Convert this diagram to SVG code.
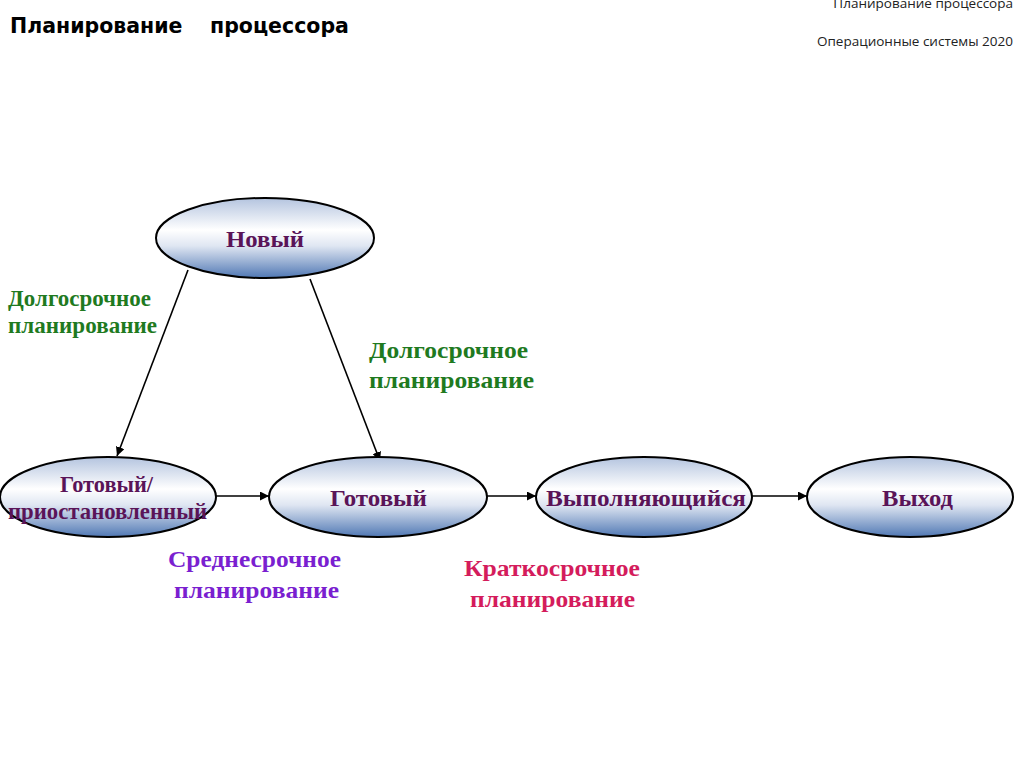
<svg xmlns="http://www.w3.org/2000/svg" width="1024" height="767" viewBox="0 0 1024 767">
<style>
.node{stroke:#000;stroke-width:2;fill:url(#g)}
.nl{font-family:"Liberation Serif",serif;font-weight:bold;font-size:24px;fill:#5a1458;text-anchor:middle}
.lbl{font-family:"Liberation Serif",serif;font-weight:bold;font-size:23px}
.edge{stroke:#000;stroke-width:1.6;fill:none;marker-end:url(#a)}
</style>
<defs>
<linearGradient id="g" x1="0" y1="0" x2="0" y2="1">
<stop offset="0" stop-color="#b4c4df"/>
<stop offset="0.4" stop-color="#ffffff"/>
<stop offset="0.6" stop-color="#dfe6f2"/>
<stop offset="1" stop-color="#5078b4"/>
</linearGradient>
<marker id="a" viewBox="0 0 10 10" refX="10" refY="5" markerWidth="9" markerHeight="9" markerUnits="userSpaceOnUse" orient="auto"><path d="M0,0 L10,5 L0,10 z" fill="#000"/></marker>
</defs>
<rect width="1024" height="767" fill="#fff"/>
<text x="10" y="33" font-family="'DejaVu Sans',sans-serif" font-weight="bold" font-size="20.5" fill="#000">Планирование</text>
<text x="210" y="33" font-family="'DejaVu Sans',sans-serif" font-weight="bold" font-size="20.5" fill="#000">процессора</text>
<text x="1013" y="8" font-family="'Open Sans',sans-serif" font-size="13.5" fill="#222" text-anchor="end">Планирование  процессора</text>
<text x="1013" y="46" font-family="'Open Sans',sans-serif" font-size="13.5" fill="#222" text-anchor="end">Операционные системы 2020</text>
<g id="connectors">
<line class="edge" x1="188" y1="270" x2="117" y2="456"/>
<line class="edge" x1="310" y1="279" x2="380" y2="461"/>
<line class="edge" x1="216" y1="496" x2="269" y2="496"/>
<line class="edge" x1="487" y1="496" x2="536" y2="496"/>
<line class="edge" x1="752" y1="496" x2="807" y2="496"/>
</g>
<g id="n-new"><ellipse class="node" cx="265" cy="238" rx="109" ry="40"/><text class="nl" x="265" y="247" textLength="78" lengthAdjust="spacingAndGlyphs">Новый</text></g>
<g id="n-suspended"><ellipse class="node" cx="108" cy="497" rx="108" ry="40"/><text class="nl" x="106.5" y="492" font-size="20" textLength="93" lengthAdjust="spacingAndGlyphs">Готовый/</text><text class="nl" x="107.5" y="519" font-size="20" textLength="199" lengthAdjust="spacingAndGlyphs">приостановленный</text></g>
<g id="n-ready"><ellipse class="node" cx="378" cy="497" rx="109" ry="40"/><text class="nl" x="378.5" y="506" textLength="97" lengthAdjust="spacingAndGlyphs">Готовый</text></g>
<g id="n-running"><ellipse class="node" cx="644" cy="497" rx="108" ry="40"/><text class="nl" x="646" y="506" textLength="200" lengthAdjust="spacingAndGlyphs">Выполняющийся</text></g>
<g id="n-exit"><ellipse class="node" cx="910" cy="497" rx="103" ry="40"/><text class="nl" x="917.5" y="506" textLength="71" lengthAdjust="spacingAndGlyphs">Выход</text></g>
<g id="labels">
<text class="lbl" x="8" y="306" font-size="19" fill="#1f7a1f" textLength="143" lengthAdjust="spacingAndGlyphs">Долгосрочное</text>
<text class="lbl" x="8" y="333" font-size="19" fill="#1f7a1f" textLength="149" lengthAdjust="spacingAndGlyphs">планирование</text>
<text class="lbl" x="369" y="358" fill="#1f7a1f" textLength="159" lengthAdjust="spacingAndGlyphs">Долгосрочное</text>
<text class="lbl" x="369" y="388" fill="#1f7a1f" textLength="165" lengthAdjust="spacingAndGlyphs">планирование</text>
<text class="lbl" x="168" y="567" fill="#7a1fd0" textLength="173" lengthAdjust="spacingAndGlyphs">Среднесрочное</text>
<text class="lbl" x="174" y="598" fill="#7a1fd0" textLength="165" lengthAdjust="spacingAndGlyphs">планирование</text>
<text class="lbl" x="464" y="576" fill="#d41c5c" textLength="176" lengthAdjust="spacingAndGlyphs">Краткосрочное</text>
<text class="lbl" x="470" y="607" fill="#d41c5c" textLength="165" lengthAdjust="spacingAndGlyphs">планирование</text>
</g>
</svg>
